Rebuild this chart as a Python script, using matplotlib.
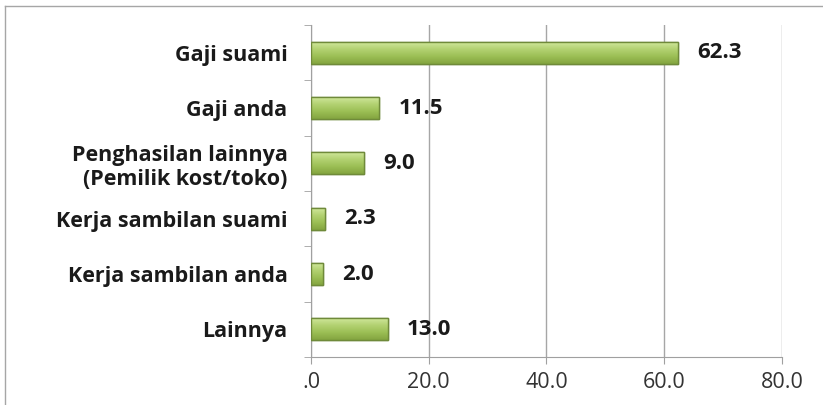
import numpy as np
import matplotlib
matplotlib.use("Agg")
import matplotlib.pyplot as plt
from matplotlib.lines import Line2D
from matplotlib.colors import LinearSegmentedColormap

categories = ["Gaji suami", "Gaji anda", "Penghasilan lainnya\n(Pemilik kost/toko)",
              "Kerja sambilan suami", "Kerja sambilan anda", "Lainnya"]
values = [62.3, 11.5, 9.0, 2.3, 2.0, 13.0]
x_ticks = [0, 20, 40, 60, 80]
x_tick_labels = [".0", "20.0", "40.0", "60.0", "80.0"]

plt.rcParams['font.family'] = ['Open Sans', 'DejaVu Sans']

fig = plt.figure(figsize=(8.23, 4.05), dpi=100)
ax = fig.add_axes([0.378, 0.1185, 0.572, 0.8195])

# outer frame of the chart area
fig.add_artist(Line2D([5 / 823, 5 / 823], [-0.1, 1 - 6 / 405], transform=fig.transFigure, color="#a6a6a6", lw=1))
fig.add_artist(Line2D([5 / 823, 1.1], [1 - 6 / 405, 1 - 6 / 405], transform=fig.transFigure, color="#a6a6a6", lw=1))

pos = np.arange(len(categories))
bars = ax.barh(pos, values, height=0.4, color="#9dc052", edgecolor="#6f8a3a", linewidth=1, zorder=3)

# vertical gradient inside each bar (light top, darker bottom)
grad_cmap = LinearSegmentedColormap.from_list("g", ["#d4eaa0", "#b4d374", "#9cbf55", "#84a540"])
for b in bars:
    x0, y0 = b.get_x(), b.get_y()
    w, h = b.get_width(), b.get_height()
    im = ax.imshow(np.linspace(0, 1, 50).reshape(-1, 1), cmap=grad_cmap, aspect="auto",
                   extent=[x0, x0 + w, y0, y0 + h], origin="lower", zorder=3.5)
    im.set_clip_path(b)
ax.barh(pos, values, height=0.4, color="none", edgecolor="#6f8a3a", linewidth=1, zorder=4)

for p, v in zip(pos, values):
    ax.annotate(f"{v:.1f}", (v, p), xytext=(14, 0), textcoords="offset points",
                va="center", ha="left", fontsize=16, fontweight="bold", color="#1a1a1a")

ax.set_xlim(0, 80)
ax.set_ylim(len(categories) - 0.5, -0.5)
ax.set_xticks(x_ticks)
ax.set_xticklabels(x_tick_labels, fontsize=15.5, color="#333333")
ax.set_yticks(pos)
ax.set_yticklabels(categories, fontsize=15.5, fontweight="bold", color="#1a1a1a", linespacing=1.2)
ax.tick_params(axis="y", which="major", length=0, pad=17)
ax.set_yticks(np.arange(-0.5, len(categories), 1), minor=True)
ax.tick_params(axis="y", which="minor", length=5, color="#a0a0a0", direction="out")
ax.tick_params(axis="x", length=5, color="#a0a0a0", pad=6)

ax.grid(axis="x", color="#a6a6a6", lw=1, zorder=0)
for s in ["top", "right"]:
    ax.spines[s].set_visible(False)
for s in ["left", "bottom"]:
    ax.spines[s].set_color("#a0a0a0")

fig.savefig("out.png", dpi=100)
